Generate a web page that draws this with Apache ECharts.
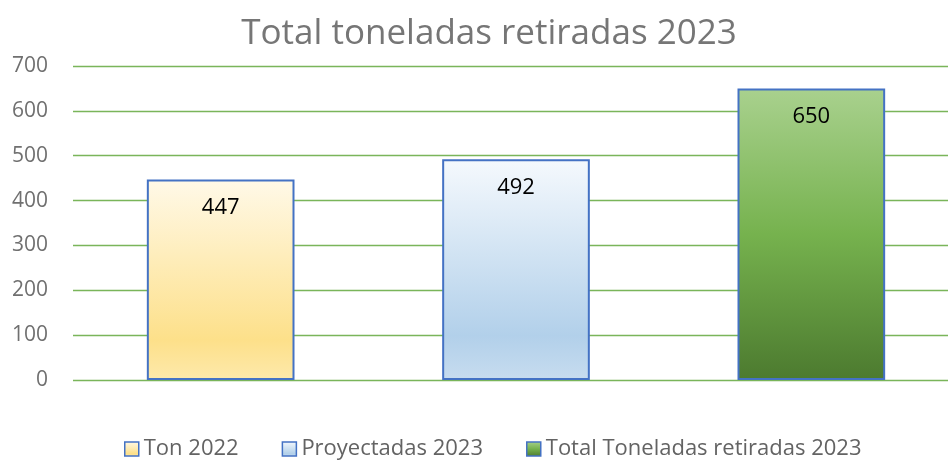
<!DOCTYPE html>
<html><head><meta charset="utf-8">
<script src="https://cdn.jsdelivr.net/npm/echarts@6/dist/echarts.min.js"></script>
<style>html,body{margin:0;padding:0;background:#fff;overflow:hidden}#c{width:959px;height:465px}</style>
</head><body><div id="c"></div>
<script>
const categories = ['Ton 2022', 'Proyectadas 2023', 'Total Toneladas retiradas 2023'];
const seriesNames = ['Ton 2022', 'Proyectadas 2023', 'Total Toneladas retiradas 2023'];
const values = [447, 492, 650];
const yTicks = [0, 100, 200, 300, 400, 500, 600, 700];

const fills = [
  [[0, '#fff9e8'], [0.8, '#fde08a'], [1, '#fde9ab']],
  [[0, '#f5f9fd'], [0.8, '#b2d0ea'], [1, '#c7dcef']],
  [[0, '#a9d18e'], [0.5, '#76b24e'], [1, '#4c7a2f']]
];
function grad(stops){
  return new echarts.graphic.LinearGradient(0,0,0,1, stops.map(s=>({offset:s[0], color:s[1]})));
}
const chart = echarts.init(document.getElementById('c'));
const series = seriesNames.map((n,i)=>({
  name: n, type: 'bar', stack: 'all', barWidth: '50%',
  data: categories.map((c,j)=> j===i ? values[i] : null),
  itemStyle: { color: grad(fills[i]), borderColor: '#4472c4', borderWidth: 2 },
  label: { show: true, position: 'insideTop', distance: 17, color: '#000', fontSize: 22, fontFamily: 'Open Sans' }
}));
chart.setOption({
  animation: false,
  title: { text: 'Total toneladas retiradas 2023', left: 484, textAlign: 'center', top: 12,
    textStyle: { color: '#767676', fontSize: 35, fontWeight: 'normal', fontFamily: 'Open Sans' } },
  legend: { bottom: 0, left: 119, itemGap: 43, itemWidth: 14, itemHeight: 14, icon: 'rect',
    textStyle: { color: '#636363', fontSize: 22, fontFamily: 'Open Sans' },
    data: seriesNames.map((n,i)=>({name:n, itemStyle:{borderColor:'#4472c4', borderWidth:1.5}})) },
  grid: { left: 73, right: 0, top: 66, bottom: 85 },
  xAxis: { type: 'category', data: categories, axisLine: {show:false}, axisTick:{show:false}, axisLabel:{show:false} },
  yAxis: { type: 'value', min: 0, max: 700, interval: 100,
    axisLabel: { color: '#707070', fontSize: 21, fontFamily: 'Open Sans', margin: 25, formatter: v => yTicks.includes(v) ? String(v) : '' },
    splitLine: { lineStyle: { color: '#7ab55a', width: 1.3 } } },
  series: series
});
</script></body></html>
